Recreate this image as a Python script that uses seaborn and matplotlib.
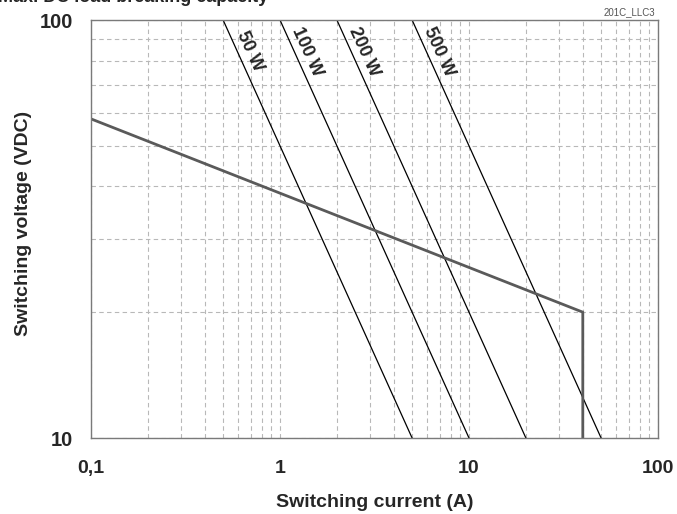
import numpy as np
import pandas as pd
import seaborn as sns
import matplotlib
matplotlib.use("Agg")
import matplotlib.pyplot as plt
from matplotlib.ticker import FixedLocator, NullFormatter

# Data
powers = [50, 100, 200, 500]              # W, constant-power lines V = P / I
power_labels = ["50 W", "100 W", "200 W", "500 W"]
limit_current = [0.1, 40, 40]             # A, breaking capacity curve
limit_voltage = [58, 20, 10]              # VDC
x_ticks = [0.1, 1, 10, 100]
x_ticklabels = ["0,1", "1", "10", "100"]
y_ticks = [10, 100]
y_ticklabels = ["10", "100"]

sns.set_theme(style="white")
plt.rcParams['font.family'] = ['Liberation Sans', 'DejaVu Sans']

fig = plt.figure(figsize=(6.77, 5.14), dpi=100)
ax = fig.add_axes([91/677, 76/514, 567/677, 418/514])

# power lines
rows = []
for p, lab in zip(powers, power_labels):
    i_vals = np.array([p / 100.0, p / 10.0])
    for i in i_vals:
        rows.append({"I": i, "V": p / i, "P": lab})
df_p = pd.DataFrame(rows)
for lab in power_labels:
    sns.lineplot(data=df_p[df_p.P == lab], x="I", y="V", ax=ax, color="black",
                 lw=0.9, sort=False, estimator=None)

df_l = pd.DataFrame({"I": limit_current, "V": limit_voltage})
sns.lineplot(data=df_l, x="I", y="V", ax=ax, color="#5a5a5a", lw=2.0,
             sort=False, estimator=None)

ax.set_xscale("log")
ax.set_yscale("log")
ax.set_xlim(0.1, 100)
ax.set_ylim(10, 100)

ax.xaxis.set_major_locator(FixedLocator(x_ticks))
ax.set_xticklabels(x_ticklabels)
ax.yaxis.set_major_locator(FixedLocator(y_ticks))
ax.set_yticklabels(y_ticklabels)
ax.xaxis.set_minor_formatter(NullFormatter())
ax.yaxis.set_minor_formatter(NullFormatter())
ax.tick_params(axis="both", which="both", length=0)
ax.tick_params(axis="x", labelsize=14, pad=16)
ax.tick_params(axis="y", labelsize=14.5, pad=13)
for t in ax.get_xticklabels() + ax.get_yticklabels():
    t.set_fontweight("bold")

ax.grid(True, which="both", color="#b8b8b8", lw=0.8, ls=(0, (4, 3)))
ax.set_axisbelow(True)
for s in ax.spines.values():
    s.set_color("#7a7a7a")
    s.set_linewidth(1.0)

ax.set_xlabel("Switching current (A)", fontsize=14, fontweight="bold", labelpad=12)
ax.set_ylabel("Switching voltage (VDC)", fontsize=14, fontweight="bold")
ax.yaxis.set_label_coords(-0.104, 0.514)

# line labels
for p, lab in zip(powers, power_labels):
    v = 84
    ax.annotate(lab, xy=(p / v, v), xytext=(9, 0), textcoords="offset points",
                rotation=-65.4, ha="center", va="center", rotation_mode="anchor",
                fontsize=13, fontweight="bold")

fig.text(-0.003, 1 - 1.5/514, "Max. DC load breaking capacity", fontsize=13,
         fontweight="bold", ha="left", va="baseline")
fig.text(655/677, 1 - 15/514, "201C_LLC3", fontsize=7, color="#555555",
         ha="right", va="baseline")

fig.savefig("out.png", dpi=100)
